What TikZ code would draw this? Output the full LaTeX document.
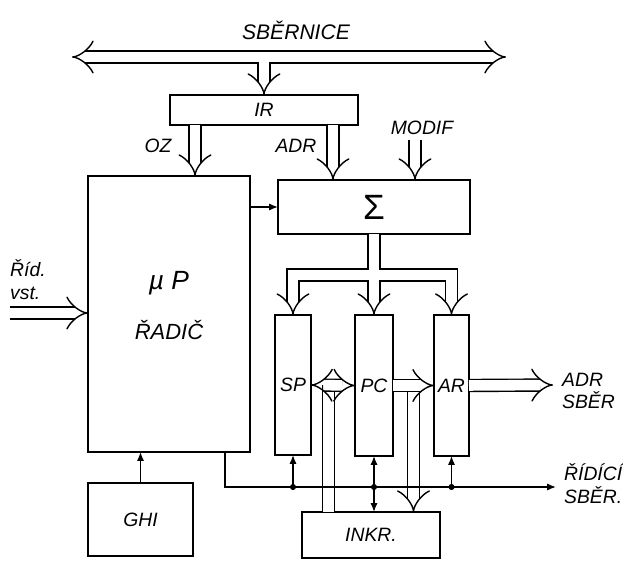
\documentclass[tikz,border=0pt]{standalone}
\usepackage{fontspec}
\setmainfont{Liberation Sans}
\usetikzlibrary{positioning, arrows.meta, calc}

\tikzset{
  reg/.style={draw, line width=1.6pt, inner sep=0pt, outer sep=0pt},
  dbl/.style={double, double distance=6pt, line width=0.8pt},
  dbltip/.style={dbl, -{Implies[scale=1.7]}},
  ctl/.style={line width=0.8pt, -{Latex[length=5pt, width=4pt]}},
  dot/.style={circle, fill, inner sep=0pt, minimum size=3.5pt},
}

\begin{document}
\begin{tikzpicture}[x=0.02cm, y=-0.02cm, font=\itshape\fontsize{11}{13}\selectfont]
  \useasboundingbox (0,0) rectangle (623,561);

  % bloky
  \node[reg, minimum width=3.76cm, minimum height=0.6cm] (ir) at (264,110) {IR};
  \node[reg, minimum width=3.24cm, minimum height=5.52cm] (radic) at (169,314) {};
  \node[font=\itshape\fontsize{15}{17}\selectfont] at ([yshift=0.62cm]radic.center) {µ P};
  \node[font=\itshape\fontsize{12.5}{14}\selectfont] at ([yshift=-0.32cm]radic.center) {ŘADIČ};
  \node[reg, minimum width=3.84cm, minimum height=1.08cm,
        font=\fontsize{20}{22}\selectfont] (sum) at (374,207) {Σ};
  \node[reg, minimum width=0.72cm, minimum height=2.8cm] (sp) at (293,385) {SP};
  \node[reg, minimum width=0.76cm, minimum height=2.82cm] (pc) at (374,385.5) {PC};
  \node[reg, minimum width=0.7cm, minimum height=2.82cm] (ar) at (451.5,385.5) {AR};
  \node[reg, minimum width=2.1cm, minimum height=1.46cm] (ghi) at (140.5,519.5) {GHI};
  \node[reg, minimum width=2.76cm, minimum height=0.92cm] (inkr) at (371,535) {INKR.};

  % sbernice
  \coordinate (busL) at (72,57);
  \coordinate (busR) at (506,57);
  \draw[dbl] ($(busL)+(20,0)$) -- ($(busR)+(-20,0)$)
    (ir.north |- busL) -- ([yshift=0.4cm]ir.north);
  \draw[dbltip] ($(busL)+(24,0)$) -- (busL);
  \draw[dbltip] ($(busR)+(-24,0)$) -- (busR);
  \draw[dbltip] ([yshift=0.48cm]ir.north) -- (ir.north);
  \node[font=\itshape\fontsize{12}{14}\selectfont] (sbtext) at (296,30) {SBĚRNICE};

  % z IR dolu
  \coordinate (oz) at ([xshift=-1.38cm]ir.south);
  \coordinate (adr) at ([xshift=1.38cm]ir.south);
  \draw[dbltip] (oz) -- (oz |- radic.north);
  \draw[dbltip] (adr) -- (adr |- sum.north);
  \node at (158,146) {OZ};
  \node at (296,146) {ADR};
  \node (modif) at (422,128) {MODIF};
  \coordinate (modin) at (415,140);
  \draw[dbltip] (modin) -- (modin |- sum.north);

  % rozvod ze Sigma
  \coordinate (fork) at (374,275);
  \draw[dbl] ([yshift=0.4cm]sp.north) |- (fork) -| ([yshift=0.4cm]ar.north)
    (sum.south) -- ([yshift=0.4cm]pc.north);
  \draw[dbltip] ([yshift=0.48cm]sp.north) -- (sp.north);
  \draw[dbltip] ([yshift=0.48cm]pc.north) -- (pc.north);
  \draw[dbltip] ([yshift=0.48cm]ar.north) -- (ar.north);

  % mezi registry
  \coordinate (spc) at ($(sp.east)!0.4!(pc.west)$);
  \coordinate (pca) at ($(pc.east)!0.5!(ar.west)$);
  \draw[dbl] (spc) -- (spc |- inkr.north);
  \draw[dbltip] (pca) -- (pca |- inkr.north);
  \draw[dbl, {Implies[scale=1.7]}-{Implies[scale=1.7]}] (sp.east) -- (pc.west);
  \draw[dbltip] (pc.east) -- (ar.west);
  \coordinate (adrout) at (553,385);
  \draw[dbltip] (ar.east) -- (adrout);
  \node[align=left, anchor=west] at (556,391) {ADR\\SBĚR};

  % ridici vstupy
  \coordinate (ridin) at (10,313);
  \draw[dbltip] (ridin) -- (ridin -| radic.west);
  \node[align=left, anchor=west] at (4,280) {Říd.\\vst.};

  % ridici sbernice
  \coordinate (ctlout) at (556,487);
  \draw[ctl] (ghi.north) -- (ghi.north |- radic.south);
  \draw[ctl] (radic.east |- sum.west) -- (sum.west);
  \draw[ctl] ([xshift=1.12cm]radic.south) |- (ctlout);
  \node[dot] (dsp) at (sp.south |- ctlout) {};
  \node[dot] (dpc) at (pc.south |- ctlout) {};
  \node[dot] (dar) at (ar.south |- ctlout) {};
  \draw[ctl] (dsp) -- (sp.south);
  \draw[ctl, {Latex[length=5pt, width=4pt]}-{Latex[length=5pt, width=4pt]}]
    (pc.south) -- (pc.south |- inkr.north);
  \draw[ctl] (dar) -- (ar.south);
  \node[align=left, anchor=west] at (558,484) {ŘÍDÍCÍ\\SBĚR.};
\end{tikzpicture}
\end{document}
